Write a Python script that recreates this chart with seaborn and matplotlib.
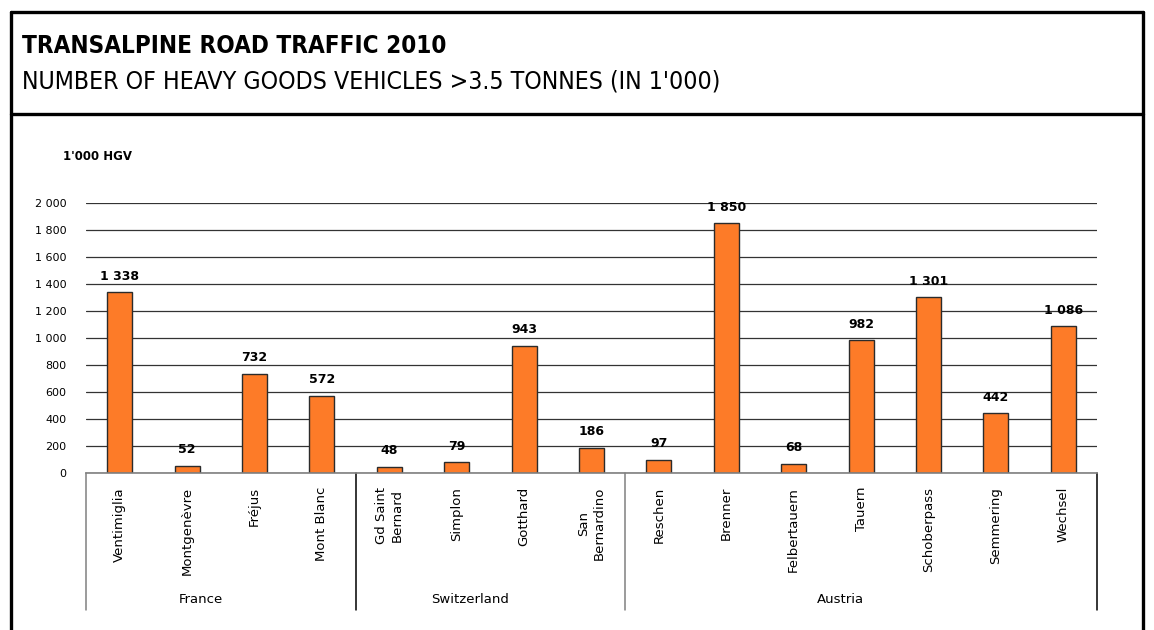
import matplotlib
matplotlib.use("Agg")
import matplotlib.pyplot as plt
import seaborn as sns
import pandas as pd
from matplotlib.lines import Line2D

passes = ["Ventimiglia", "Montgenèvre", "Fréjus", "Mont Blanc",
          "Gd Saint\nBernard", "Simplon", "Gotthard", "San\nBernardino",
          "Reschen", "Brenner", "Felbertauern", "Tauern", "Schoberpass",
          "Semmering", "Wechsel"]
hgv = [1338, 52, 732, 572, 48, 79, 943, 186, 97, 1850, 68, 982, 1301, 442, 1086]
countries = ["France", "Switzerland", "Austria"]
group_sizes = [4, 4, 7]
yticks = [0, 200, 400, 600, 800, 1000, 1200, 1400, 1600, 1800, 2000]

df = pd.DataFrame({"pass": passes, "hgv": hgv})

def fmt(v):
    return f"{v:,}".replace(",", " ")

sns.set_style("white")
plt.rcParams["font.family"] = ["DejaVu Sans"]
plt.rcParams["text.color"] = "black"
plt.rcParams["xtick.color"] = "black"
plt.rcParams["ytick.color"] = "black"

W, H = 1154, 630
fig = plt.figure(figsize=(W / 100, H / 100), dpi=100)

# frame around the whole thing
frame_kw = dict(transform=fig.transFigure, color="black", lw=2.4, clip_on=False)
fig.add_artist(Line2D([11.5 / W, 11.5 / W], [0, 1 - 11.5 / H], **frame_kw))
fig.add_artist(Line2D([1143 / W, 1143 / W], [0, 1 - 11.5 / H], **frame_kw))
fig.add_artist(Line2D([11.5 / W, 1143 / W], [1 - 11.5 / H, 1 - 11.5 / H], **frame_kw))
fig.add_artist(Line2D([11.5 / W, 1143 / W], [1 - 113.5 / H, 1 - 113.5 / H], **frame_kw))

fig.text(22 / W, 1 - 46 / H, "TRANSALPINE ROAD TRAFFIC 2010", fontsize=17.4,
         fontweight="bold", fontstretch="condensed", va="center", ha="left")
fig.text(22 / W, 1 - 81 / H, "NUMBER OF HEAVY GOODS VEHICLES >3.5 TONNES (IN 1'000)",
         fontsize=17.8, fontstretch="condensed", va="center", ha="left")
fig.text(63 / W, 1 - 156 / H, "1'000 HGV", fontsize=8.5, fontweight="bold",
         va="center", ha="left")

ax = fig.add_axes([86 / W, 1 - 473 / H, (1097 - 86) / W, (473 - 203) / H])
sns.barplot(data=df, x="pass", y="hgv", color="#fd7b28", edgecolor="#2b2b2b",
            linewidth=1, width=0.37, saturation=1, ax=ax)

ax.set_ylim(0, 2000)
ax.set_xlim(-0.5, len(passes) - 0.5)
ax.set_yticks(yticks)
ax.set_yticklabels([fmt(t) for t in yticks], fontsize=8)
ax.tick_params(axis="y", length=0, pad=14)
ax.tick_params(axis="x", length=0, pad=10)
ax.set_xticks(range(len(passes)))
ax.set_xticklabels(passes, rotation=90, fontsize=9.5, multialignment="center")
ax.set_xlabel("")
ax.set_ylabel("")
ax.yaxis.grid(True, color="#333333", lw=0.9)
ax.set_axisbelow(True)
for s in ["left", "right", "top"]:
    ax.spines[s].set_visible(False)
ax.spines["bottom"].set_color("#808080")
ax.spines["bottom"].set_linewidth(1.2)

for i, v in enumerate(hgv):
    ax.annotate(fmt(v), (i, v), xytext=(0, 7), textcoords="offset points",
                ha="center", va="bottom", fontsize=9, fontweight="bold")

# country groups under the pass names
depth = -(610 - 473) / (473 - 203)
bounds = [-0.5]
for n in group_sizes:
    bounds.append(bounds[-1] + n)
trans = ax.get_xaxis_transform()
for b, c in zip(bounds, ["#808080", "black", "#808080", "black"]):
    ax.add_line(Line2D([b, b], [0, depth], transform=trans, color=c,
                       lw=1.1, clip_on=False))
for k, name in enumerate(countries):
    mid = (bounds[k] + bounds[k + 1]) / 2
    ax.text(mid - 0.3, depth + 0.04, name, transform=trans, ha="center",
            va="center", fontsize=9.5)

fig.savefig("out.png", dpi=100, facecolor="white")
